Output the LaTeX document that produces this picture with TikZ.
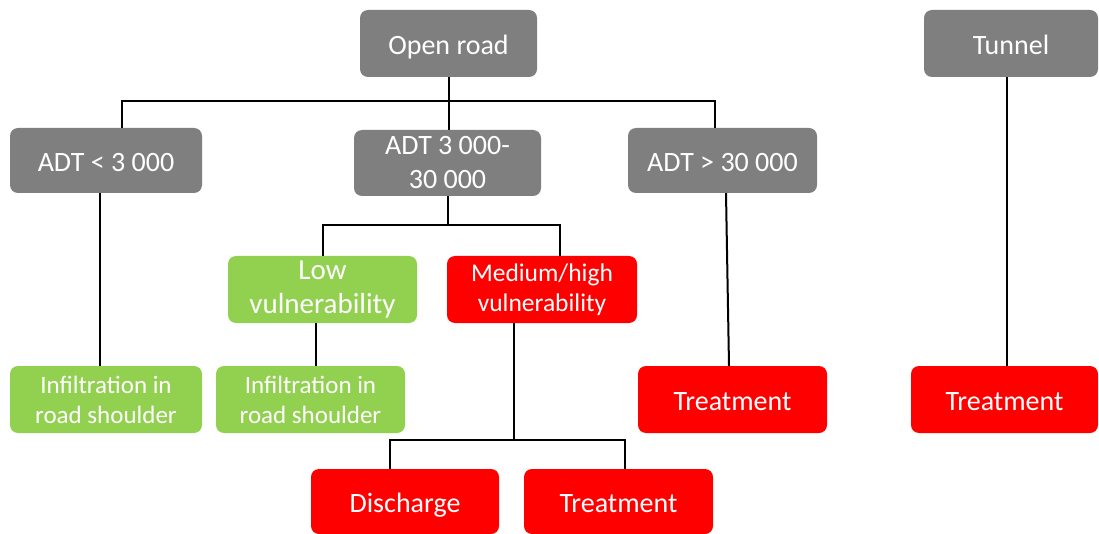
\documentclass[tikz,border=0pt]{standalone}
\usepackage{fontspec}
\setmainfont{Carlito}
\begin{document}
\begin{tikzpicture}[x=1pt,y=-1pt,
  box/.style={rectangle,rounded corners=8pt,draw=none,text=white,align=center,inner sep=0pt},
  gbox/.style={box,fill=boxgray},
  grbox/.style={box,fill=boxgreen},
  rbox/.style={box,fill=boxred},
  big/.style={font=\fontsize{28}{34}\selectfont},
  oneline/.style={big,text height=24pt,text depth=2pt},
  mid/.style={font=\fontsize{25.5}{30}\selectfont},
  conn/.style={draw=black,line width=2pt}]
\definecolor{boxgray}{HTML}{7F7F7F}
\definecolor{boxgreen}{HTML}{92D050}
\definecolor{boxred}{HTML}{FF0000}
\useasboundingbox (0,0) rectangle (1099,534);
\fill[white] (0,0) rectangle (1099,534);

\node[gbox,oneline,minimum width=177pt,minimum height=67pt] (open) at (448.5,43.5) {Open road};
\node[gbox,oneline,minimum width=174pt,minimum height=67pt] (tunnel) at (1011,43.5) {Tunnel};
\node[gbox,oneline,minimum width=192pt,minimum height=65pt] (adt1) at (106,160.5) {ADT < 3 000};
\node[gbox,big,minimum width=187pt,minimum height=66pt] (adt2) at (447.5,163) {ADT 3 000-\\30 000};
\node[gbox,oneline,minimum width=189pt,minimum height=65pt] (adt3) at (722.5,160.5) {ADT > 30 000};
\node[grbox,font=\fontsize{29}{34}\selectfont,minimum width=189pt,minimum height=67pt] (low) at (322.5,289.5) {Low\\vulnerability};
\node[rbox,mid,minimum width=190pt,minimum height=67pt] (med) at (542,289.5) {Medium/high\\vulnerability};
\node[grbox,font=\fontsize{25}{30}\selectfont,minimum width=192pt,minimum height=67pt] (inf1) at (106,399.5) {Infiltration in\\road shoulder};
\node[grbox,font=\fontsize{25}{30}\selectfont,minimum width=189pt,minimum height=67pt] (inf2) at (310.5,399.5) {Infiltration in\\road shoulder};
\node[rbox,oneline,minimum width=189pt,minimum height=67pt] (treat1) at (732.5,399.5) {Treatment};
\node[rbox,oneline,minimum width=187pt,minimum height=67pt] (treat2) at (1004.5,399.5) {Treatment};
\node[rbox,oneline,minimum width=188pt,minimum height=65pt] (dis) at (405,501.5) {Discharge};
\node[rbox,oneline,minimum width=189pt,minimum height=65pt] (treat3) at (618.5,501.5) {Treatment};

\coordinate (y1) at (0,101);
\coordinate (y2) at (0,225);
\coordinate (y3) at (0,440);
\coordinate (b1) at (open.south |- y1);
\coordinate (b2) at (adt2.south |- y2);
\coordinate (b3) at ([xshift=-28pt]med.south |- y3);

\draw[conn] (open.south) -- (b1);
\draw[conn] ([xshift=16pt]adt1.north) |- (b1) -| ([xshift=-7.5pt]adt3.north);
\draw[conn] (b1) -- (b1 |- adt2.north);
\draw[conn] ([xshift=-6pt]adt1.south) -- ([xshift=-6pt]inf1.north);
\draw[conn] (adt2.south) -- (b2);
\draw[conn] ([xshift=0.5pt]low.north) |- (b2) -| ([xshift=18pt]med.north);
\draw[conn] ([xshift=-6.5pt]low.south) -- ([xshift=5.5pt]inf2.north);
\draw[conn] ([xshift=-28pt]med.south) -- (b3);
\draw[conn] ([xshift=-15pt]dis.north) |- (b3) -| ([xshift=6.5pt]treat3.north);
\draw[conn] ([xshift=3.5pt]adt3.south) -- ([xshift=-3.5pt]treat1.north);
\draw[conn] ([xshift=-4pt]tunnel.south) -- ([xshift=2.5pt]treat2.north);
\end{tikzpicture}
\end{document}
